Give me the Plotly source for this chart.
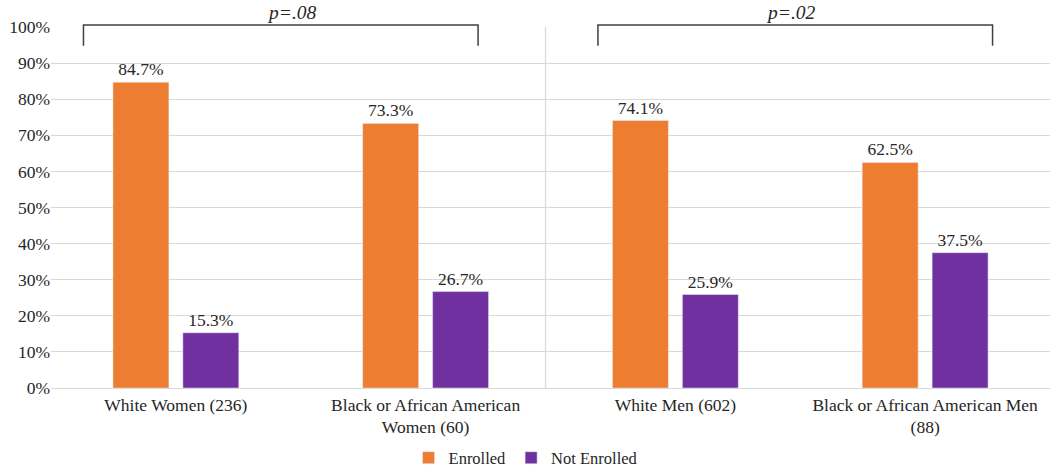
import plotly.graph_objects as go

categories = ["White Women (236)", "Black or African American Women (60)",
              "White Men (602)", "Black or African American Men (88)"]
tick_labels = ["White Women (236)", "Black or African American<br>Women (60)",
               "White Men (602)", "Black or African American Men<br>(88)"]
enrolled = [84.7, 73.3, 74.1, 62.5]
not_enrolled = [15.3, 26.7, 25.9, 37.5]
p_labels = ["p=.08", "p=.02"]

FONT = "Liberation Serif"
ORANGE = "#ED7D31"
PURPLE = "#7030A0"
TXT = "#262626"

fig = go.Figure()
fig.add_bar(x=categories, y=enrolled, name="Enrolled", marker_color=ORANGE,
            text=[f"{v:.1f}%" for v in enrolled], textposition="outside",
            textfont=dict(family=FONT, size=17.5, color=TXT), cliponaxis=False)
fig.add_bar(x=categories, y=not_enrolled, name="Not Enrolled", marker_color=PURPLE,
            text=[f"{v:.1f}%" for v in not_enrolled], textposition="outside",
            textfont=dict(family=FONT, size=17.5, color=TXT), cliponaxis=False)

# divider between women and men
fig.add_shape(type="line", xref="x", yref="y", x0=1.48, x1=1.48, y0=0, y1=100,
              line=dict(color="#d9d9d9", width=1.3))

# brackets with p-values
brackets = [(-0.37, 1.21), (1.69, 3.27)]
p_pos = [0.464, 2.464]
for (a, b), px, lab in zip(brackets, p_pos, p_labels):
    fig.add_shape(type="path", xref="x", yref="paper",
                  path=f"M {a} 0.948 L {a} 1.0055 L {b} 1.0055 L {b} 0.948",
                  line=dict(color="#404040", width=1.5))
    fig.add_annotation(x=px, xref="x", y=1.040, yref="paper",
                       text=f"<i>{lab}</i>", showarrow=False, yanchor="middle",
                       font=dict(family=FONT, size=19.5, color=TXT))

fig.update_layout(
    width=1050, height=469,
    margin=dict(l=51, r=0, t=27, b=81),
    paper_bgcolor="white", plot_bgcolor="white",
    barmode="group", bargap=0.44, bargroupgap=0.2,
    font=dict(family=FONT, size=17.5, color=TXT),
    legend=dict(orientation="h", xref="container", yref="container",
                x=0.501, xanchor="center", y=0.0235, yanchor="middle",
                font=dict(family=FONT, size=16.5, color=TXT), itemwidth=30,
                tracegroupgap=0),
    showlegend=True,
)
fig.update_xaxes(range=[-0.5, 3.5], tickmode="array", tickvals=categories,
                 ticktext=tick_labels, showgrid=False, showline=False,
                 ticks="", ticklabelstandoff=4,
                 tickfont=dict(family=FONT, size=17.5, color=TXT))
fig.update_yaxes(range=[0, 100], dtick=10, ticksuffix="%", gridcolor="#d9d9d9",
                 gridwidth=1, zeroline=True, zerolinecolor="#d9d9d9", zerolinewidth=1,
                 showline=False, ticks="", tickfont=dict(family=FONT, size=17.5, color=TXT))

fig.write_html("out.html", config={"displayModeBar": False},
               post_script="document.body.style.margin='0px';")
